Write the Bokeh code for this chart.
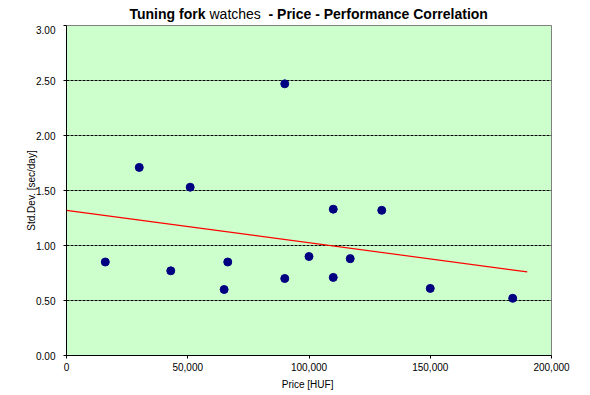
from bokeh.plotting import figure
from bokeh.layouts import column
from bokeh.models import Range1d, NumeralTickFormatter, FixedTicker
from bokeh.core.properties import value
from bokeh.embed import file_html
from bokeh.resources import INLINE

# ---- data ----
price_huf = [16000, 30000, 43000, 51000, 65000, 66500, 90000, 90000,
             100000, 110000, 110000, 117000, 130000, 150000, 184000]
std_dev = [0.85, 1.71, 0.77, 1.53, 0.60, 0.85, 0.70, 2.47,
           0.90, 1.33, 0.71, 0.88, 1.32, 0.61, 0.52]

trend_x = [0, 190000]
trend_y = [1.32, 0.76]

x_ticks = [0, 50000, 100000, 150000, 200000]
y_ticks = [0.0, 0.5, 1.0, 1.5, 2.0, 2.5, 3.0]
grid_lines = [0.5, 1.0, 1.5, 2.0, 2.5]

title_texts = ["Tuning fork", "watches", "-  Price - Performance Correlation"]
title_styles = ["bold", "normal", "bold"]

FONT = "Liberation Sans"
LEFT, RIGHT = 66, 39
W = 590

# ---- title strip: frame spans the same pixels as the chart frame,
#      x range given in page pixels, y downward ----
tf = figure(width=W, height=25, output_backend="svg", toolbar_location=None,
            title=None,
            x_range=Range1d(LEFT, W - RIGHT), y_range=Range1d(25, 0),
            x_axis_type=None, y_axis_type=None,
            min_border_left=LEFT, min_border_right=RIGHT,
            min_border_top=0, min_border_bottom=0)
tf.outline_line_color = None
tf.background_fill_color = "white"
tf.border_fill_color = "white"
tf.grid.visible = False
title_x = [129, 209, 268]
for txt, style, xpos in zip(title_texts, title_styles, title_x):
    tf.text(x=[xpos], y=[13.5], text=[txt], text_font=value(FONT),
            text_font_size=value("14px"), text_font_style=style,
            text_color="black", text_align="left", text_baseline="alphabetic")

# ---- main chart ----
p = figure(width=W, height=370, output_backend="svg", toolbar_location=None,
           x_range=Range1d(0, 200000), y_range=Range1d(0, 3),
           min_border_left=LEFT, min_border_right=RIGHT,
           min_border_top=0, min_border_bottom=40)

p.border_fill_color = "white"
p.background_fill_color = "#CCFFCC"
p.outline_line_color = "#808080"
p.outline_line_width = 1

p.xgrid.visible = False
p.ygrid.ticker = FixedTicker(ticks=grid_lines)
p.ygrid.grid_line_color = "black"
p.ygrid.grid_line_dash = "3 1"
p.ygrid.grid_line_width = 1

for ax in (p.xaxis[0], p.yaxis[0]):
    ax.axis_line_color = "black"
    ax.major_tick_line_color = "black"
    ax.major_tick_out = 3
    ax.major_tick_in = 0
    ax.minor_tick_line_color = None
    ax.major_label_text_font = FONT
    ax.major_label_text_font_size = "10px"
    ax.major_label_text_color = "black"
    ax.axis_label_text_font = FONT
    ax.axis_label_text_font_size = "10px"
    ax.axis_label_text_font_style = "normal"
    ax.axis_label_text_color = "black"

p.xaxis[0].ticker = FixedTicker(ticks=x_ticks)
p.xaxis[0].formatter = NumeralTickFormatter(format="0,0")
p.xaxis[0].major_label_standoff = 4
p.xaxis[0].axis_label = "Price  [HUF]"
p.xaxis[0].axis_label_standoff = 5

p.yaxis[0].ticker = FixedTicker(ticks=y_ticks)
p.yaxis[0].formatter = NumeralTickFormatter(format="0.00")
p.yaxis[0].major_label_standoff = 8
p.yaxis[0].axis_label = "Std.Dev. [sec/day]"
p.yaxis[0].axis_label_standoff = -4

p.line(trend_x, trend_y, line_color="#FF0000", line_width=1.2)
p.scatter(price_huf, std_dev, size=8, fill_color="#000080", line_color="#000080")

layout = column(tf, p, spacing=0)
open("out.html", "w").write(file_html(layout, INLINE))
